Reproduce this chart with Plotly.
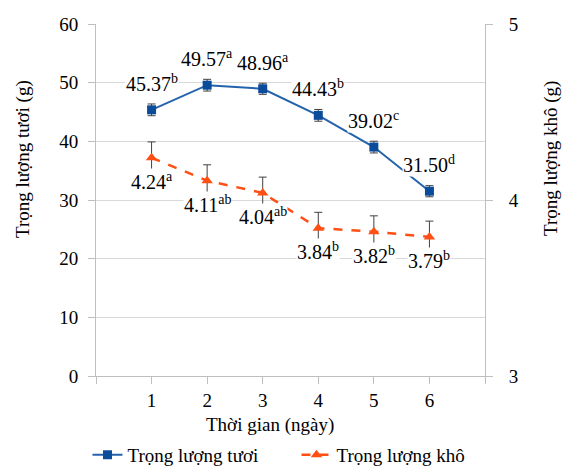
import plotly.graph_objects as go

days = [1, 2, 3, 4, 5, 6]
fresh = [45.37, 49.57, 48.96, 44.43, 39.02, 31.50]
fresh_err = [1.0, 1.0, 0.95, 1.0, 1.0, 0.95]
fresh_letters = ["b", "a", "a", "b", "c", "d"]
dry = [4.24, 4.11, 4.04, 3.84, 3.82, 3.79]
dry_err = [0.09, 0.09, 0.09, 0.09, 0.09, 0.09]
dry_letters = ["a", "ab", "ab", "b", "b", "b"]

FONT = "Liberation Serif, Times New Roman, serif"
GRID = "#D9D9D9"
AXIS = "#BFBFBF"

fig = go.Figure()
fig.add_trace(go.Scatter(
    x=days, y=fresh, mode="lines+markers", name="Trọng lượng tươi",
    line=dict(color="#2463AC", width=2),
    marker=dict(symbol="square", size=9, color="#0B4C9A"),
    error_y=dict(type="data", array=fresh_err, color="#404040", thickness=1, width=4),
))
fig.add_trace(go.Scatter(
    x=days, y=dry, mode="lines+markers", name="Trọng lượng khô", yaxis="y2",
    line=dict(color="#FF4F14", width=2.5, dash="dash"),
    marker=dict(symbol="triangle-up", size=10, color="#FF4F14"),
    error_y=dict(type="data", array=dry_err, color="#404040", thickness=1, width=4),
))

annotations = []
for d, v, l in zip(days, fresh, fresh_letters):
    annotations.append(dict(x=d, y=v, xref="x", yref="y", text=f"{v:.2f}<sup>{l}</sup>",
                            showarrow=False, yshift=27, bgcolor="white", borderpad=0,
                            font=dict(family=FONT, size=20, color="black")))
for d, v, l in zip(days, dry, dry_letters):
    annotations.append(dict(x=d, y=v, xref="x", yref="y2", text=f"{v:.2f}<sup>{l}</sup>",
                            showarrow=False, yshift=-23, bgcolor="white", borderpad=0,
                            font=dict(family=FONT, size=20, color="black")))

annotations += [
    dict(text="Trọng lượng tươi (g)", xref="paper", yref="paper", x=-0.1877, y=0.6165,
         textangle=-90, showarrow=False, xanchor="center", yanchor="middle",
         font=dict(family=FONT, size=19, color="black")),
    dict(text="Trọng lượng khô (g)", xref="paper", yref="paper", x=1.1697, y=0.6165,
         textangle=-90, showarrow=False, xanchor="center", yanchor="middle",
         font=dict(family=FONT, size=19, color="black")),
    dict(text="Thời gian (ngày)", xref="paper", yref="paper", x=0.447, y=-0.139,
         showarrow=False, xanchor="center", yanchor="middle",
         font=dict(family=FONT, size=19, color="black")),
]

tickvals = [0] + days + [7]
ticktext = [""] + [str(d) for d in days] + [""]

fig.update_layout(
    width=563, height=466,
    margin=dict(l=96, r=78, t=24, b=90, autoexpand=False),
    paper_bgcolor="white", plot_bgcolor="white",
    font=dict(family=FONT, size=19, color="black"),
    showlegend=True,
    legend=dict(orientation="h", x=-0.0219, xanchor="left", y=-0.2244, yanchor="middle",
                entrywidth=164, entrywidthmode="pixels",
                font=dict(family=FONT, size=19, color="black"), bgcolor="rgba(0,0,0,0)"),
    xaxis=dict(range=[0, 7], tickvals=tickvals, ticktext=ticktext, showgrid=False,
               showline=True, linecolor=AXIS, linewidth=1, ticks="outside", ticklen=7,
               tickcolor=AXIS, zeroline=False, ticklabelstandoff=0),
    yaxis=dict(range=[0, 60], dtick=10, showgrid=True, gridcolor=GRID, showline=True,
               linecolor=AXIS, ticks="outside", ticklen=7, tickcolor=AXIS, zeroline=False,
               ticklabelstandoff=6),
    yaxis2=dict(range=[3, 5], dtick=1, overlaying="y", side="right", showgrid=False,
                showline=True, linecolor=AXIS, ticks="outside", ticklen=7, tickcolor=AXIS,
                zeroline=False, ticklabelstandoff=12),
    annotations=annotations,
)

fig.write_html("out.html")
